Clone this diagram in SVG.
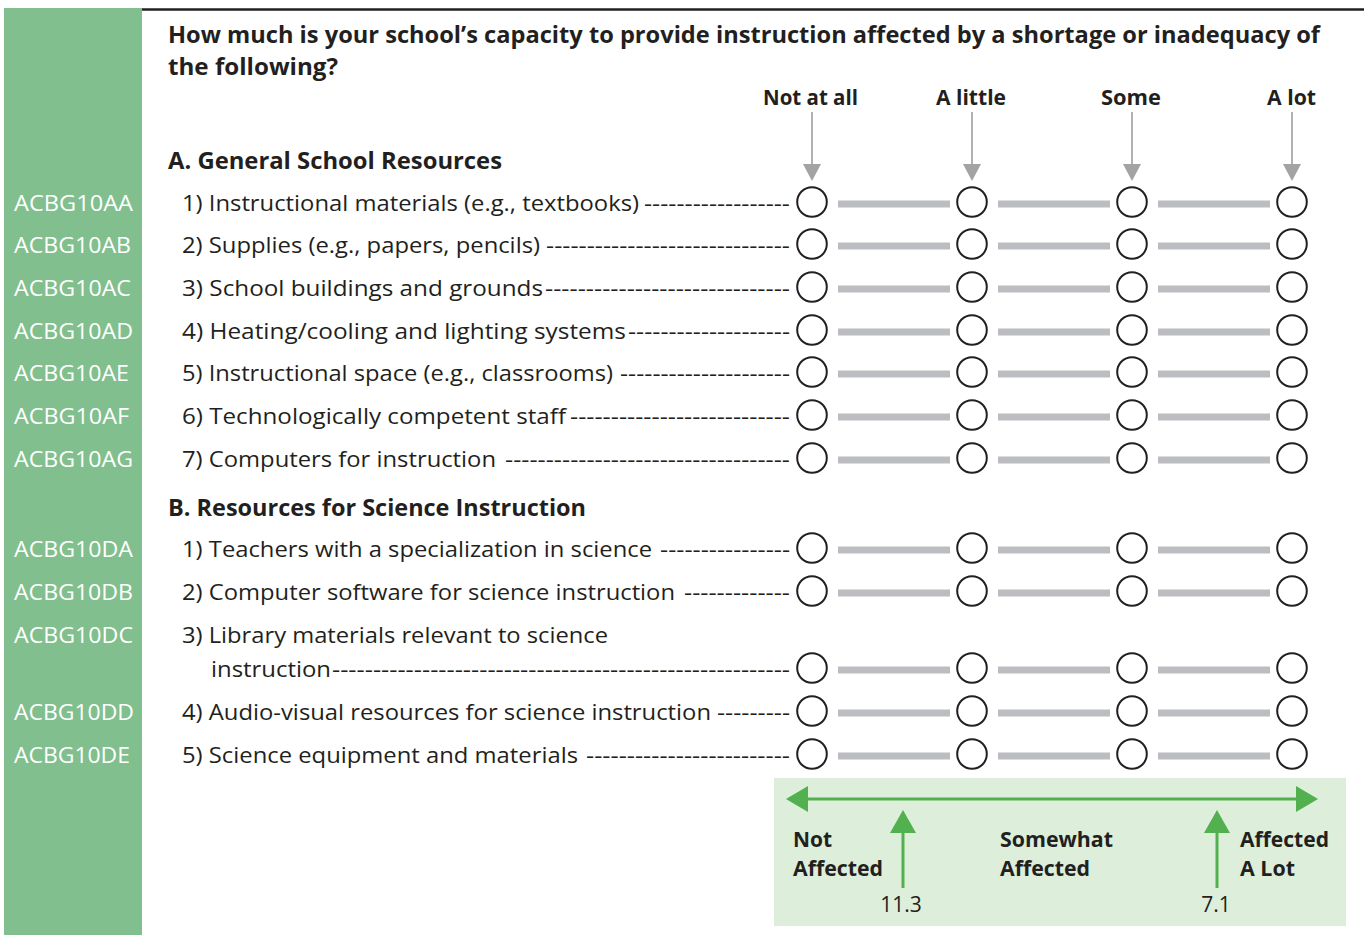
<svg xmlns="http://www.w3.org/2000/svg" width="1364" height="935" viewBox="0 0 1364 935">
<style>
text{font-family:"Open Sans","Noto Sans","Liberation Sans",sans-serif;fill:#231F20}
.t{font-size:24px;font-weight:bold}
.h{font-size:22px;font-weight:bold}
.id{font-size:21px;fill:#FFFFFF}
.it{font-size:22px}
.lg{font-size:22px;font-weight:bold}
.num{font-size:21px}
.c{fill:#FFFFFF;stroke:#231F20;stroke-width:2}
.bar{fill:#BCBDC0}
.ga{stroke:#9D9D9D;stroke-width:1.6}
.gh{fill:#A3A3A3}
.gr{stroke:#52B04F;stroke-width:3}
.grf{fill:#52B04F}
</style>
<defs>
<g id="scale">
<circle class="c" cx="812" cy="0" r="14.8"/>
<rect class="bar" x="838" y="-1.5" width="112" height="7"/>
<circle class="c" cx="972" cy="0" r="14.8"/>
<rect class="bar" x="998" y="-1.5" width="112" height="7"/>
<circle class="c" cx="1132" cy="0" r="14.8"/>
<rect class="bar" x="1158" y="-1.5" width="112" height="7"/>
<circle class="c" cx="1292" cy="0" r="14.8"/>
</g>
</defs>
<rect x="4" y="8" width="138" height="927" fill="#81BF8E"/>
<line x1="142" y1="9.5" x2="1364" y2="9.5" stroke="#231F20" stroke-width="2.5"/>

<g id="title">
<text class="t" x="168" y="43" textLength="1152" lengthAdjust="spacingAndGlyphs">How much is your school’s capacity to provide instruction affected by a shortage or inadequacy of</text>
<text class="t" x="168" y="75" textLength="170" lengthAdjust="spacingAndGlyphs">the following?</text>
</g>

<g id="headers">
<text class="h" x="763" y="105" textLength="95" lengthAdjust="spacingAndGlyphs">Not at all</text>
<text class="h" x="936" y="105" textLength="70" lengthAdjust="spacingAndGlyphs">A little</text>
<text class="h" x="1101" y="105" textLength="60" lengthAdjust="spacingAndGlyphs">Some</text>
<text class="h" x="1267" y="105" textLength="49" lengthAdjust="spacingAndGlyphs">A lot</text>
</g>

<g id="connectors">
<line class="ga" x1="812" y1="112" x2="812" y2="166"/>
<polygon class="gh" points="803,164 821,164 812,181"/>
<line class="ga" x1="972" y1="112" x2="972" y2="166"/>
<polygon class="gh" points="963,164 981,164 972,181"/>
<line class="ga" x1="1132" y1="112" x2="1132" y2="166"/>
<polygon class="gh" points="1123,164 1141,164 1132,181"/>
<line class="ga" x1="1292" y1="112" x2="1292" y2="166"/>
<polygon class="gh" points="1283,164 1301,164 1292,181"/>
</g>

<g id="sectionA">
<text class="t" x="168" y="169" textLength="334" lengthAdjust="spacingAndGlyphs">A. General School Resources</text>
</g>

<g id="ACBG10AA">
<text class="id" x="14" y="211" textLength="119" lengthAdjust="spacingAndGlyphs">ACBG10AA</text>
<text class="it" x="182" y="211" textLength="457" lengthAdjust="spacingAndGlyphs">1) Instructional materials (e.g., textbooks)</text>
<text class="it" x="644" y="211" textLength="146" lengthAdjust="spacingAndGlyphs">------------------</text>
<use href="#scale" y="202"/>
</g>
<g id="ACBG10AB">
<text class="id" x="14" y="253" textLength="117" lengthAdjust="spacingAndGlyphs">ACBG10AB</text>
<text class="it" x="182" y="253" textLength="358" lengthAdjust="spacingAndGlyphs">2) Supplies (e.g., papers, pencils)</text>
<text class="it" x="546" y="253" textLength="244" lengthAdjust="spacingAndGlyphs">------------------------------</text>
<use href="#scale" y="244"/>
</g>
<g id="ACBG10AC">
<text class="id" x="14" y="296" textLength="117" lengthAdjust="spacingAndGlyphs">ACBG10AC</text>
<text class="it" x="182" y="296" textLength="361" lengthAdjust="spacingAndGlyphs">3) School buildings and grounds</text>
<text class="it" x="545" y="296" textLength="245" lengthAdjust="spacingAndGlyphs">------------------------------</text>
<use href="#scale" y="287"/>
</g>
<g id="ACBG10AD">
<text class="id" x="14" y="339" textLength="119" lengthAdjust="spacingAndGlyphs">ACBG10AD</text>
<text class="it" x="182" y="339" textLength="444" lengthAdjust="spacingAndGlyphs">4) Heating/cooling and lighting systems</text>
<text class="it" x="628" y="339" textLength="162" lengthAdjust="spacingAndGlyphs">--------------------</text>
<use href="#scale" y="330"/>
</g>
<g id="ACBG10AE">
<text class="id" x="14" y="381" textLength="115" lengthAdjust="spacingAndGlyphs">ACBG10AE</text>
<text class="it" x="182" y="381" textLength="431" lengthAdjust="spacingAndGlyphs">5) Instructional space (e.g., classrooms)</text>
<text class="it" x="620" y="381" textLength="170" lengthAdjust="spacingAndGlyphs">---------------------</text>
<use href="#scale" y="372"/>
</g>
<g id="ACBG10AF">
<text class="id" x="14" y="424" textLength="115" lengthAdjust="spacingAndGlyphs">ACBG10AF</text>
<text class="it" x="182" y="424" textLength="384" lengthAdjust="spacingAndGlyphs">6) Technologically competent staff</text>
<text class="it" x="570" y="424" textLength="220" lengthAdjust="spacingAndGlyphs">---------------------------</text>
<use href="#scale" y="415"/>
</g>
<g id="ACBG10AG">
<text class="id" x="14" y="467" textLength="119" lengthAdjust="spacingAndGlyphs">ACBG10AG</text>
<text class="it" x="182" y="467" textLength="314" lengthAdjust="spacingAndGlyphs">7) Computers for instruction</text>
<text class="it" x="505" y="467" textLength="285" lengthAdjust="spacingAndGlyphs">-----------------------------------</text>
<use href="#scale" y="458"/>
</g>

<g id="sectionB">
<text class="t" x="168" y="516" textLength="418" lengthAdjust="spacingAndGlyphs">B. Resources for Science Instruction</text>
</g>

<g id="ACBG10DA">
<text class="id" x="14" y="557" textLength="119" lengthAdjust="spacingAndGlyphs">ACBG10DA</text>
<text class="it" x="182" y="557" textLength="470" lengthAdjust="spacingAndGlyphs">1) Teachers with a specialization in science</text>
<text class="it" x="660" y="557" textLength="130" lengthAdjust="spacingAndGlyphs">----------------</text>
<use href="#scale" y="548"/>
</g>
<g id="ACBG10DB">
<text class="id" x="14" y="600" textLength="119" lengthAdjust="spacingAndGlyphs">ACBG10DB</text>
<text class="it" x="182" y="600" textLength="493" lengthAdjust="spacingAndGlyphs">2) Computer software for science instruction</text>
<text class="it" x="684" y="600" textLength="106" lengthAdjust="spacingAndGlyphs">-------------</text>
<use href="#scale" y="591"/>
</g>
<g id="ACBG10DC">
<text class="id" x="14" y="643" textLength="119" lengthAdjust="spacingAndGlyphs">ACBG10DC</text>
<text class="it" x="182" y="643" textLength="426" lengthAdjust="spacingAndGlyphs">3) Library materials relevant to science</text>
<text class="it" x="211" y="677" textLength="120" lengthAdjust="spacingAndGlyphs">instruction</text>
<text class="it" x="332" y="677" textLength="458" lengthAdjust="spacingAndGlyphs">--------------------------------------------------------</text>
<use href="#scale" y="668"/>
</g>
<g id="ACBG10DD">
<text class="id" x="14" y="720" textLength="120" lengthAdjust="spacingAndGlyphs">ACBG10DD</text>
<text class="it" x="182" y="720" textLength="529" lengthAdjust="spacingAndGlyphs">4) Audio-visual resources for science instruction</text>
<text class="it" x="717" y="720" textLength="73" lengthAdjust="spacingAndGlyphs">---------</text>
<use href="#scale" y="711"/>
</g>
<g id="ACBG10DE">
<text class="id" x="14" y="763" textLength="116" lengthAdjust="spacingAndGlyphs">ACBG10DE</text>
<text class="it" x="182" y="763" textLength="396" lengthAdjust="spacingAndGlyphs">5) Science equipment and materials</text>
<text class="it" x="586" y="763" textLength="204" lengthAdjust="spacingAndGlyphs">-------------------------</text>
<use href="#scale" y="754"/>
</g>

<g id="legend">
<rect x="774" y="778" width="572" height="148" fill="#DDEEDB"/>
<line class="gr" x1="804" y1="799" x2="1300" y2="799"/>
<polygon class="grf" points="786,799 808,786 808,812"/>
<polygon class="grf" points="1318,799 1296,786 1296,812"/>
<line class="gr" x1="903" y1="830" x2="903" y2="888"/>
<polygon class="grf" points="903,810 890,833 916,833"/>
<line class="gr" x1="1217" y1="830" x2="1217" y2="888"/>
<polygon class="grf" points="1217,810 1204,833 1230,833"/>
<text class="lg" x="793" y="847" textLength="39" lengthAdjust="spacingAndGlyphs">Not</text>
<text class="lg" x="793" y="876" textLength="90" lengthAdjust="spacingAndGlyphs">Affected</text>
<text class="lg" x="1000" y="847" textLength="113" lengthAdjust="spacingAndGlyphs">Somewhat</text>
<text class="lg" x="1000" y="876" textLength="90" lengthAdjust="spacingAndGlyphs">Affected</text>
<text class="lg" x="1240" y="847" textLength="89" lengthAdjust="spacingAndGlyphs">Affected</text>
<text class="lg" x="1240" y="876" textLength="55" lengthAdjust="spacingAndGlyphs">A Lot</text>
<text class="num" x="901" y="912" text-anchor="middle">11.3</text>
<text class="num" x="1216" y="912" text-anchor="middle">7.1</text>
</g>
</svg>
